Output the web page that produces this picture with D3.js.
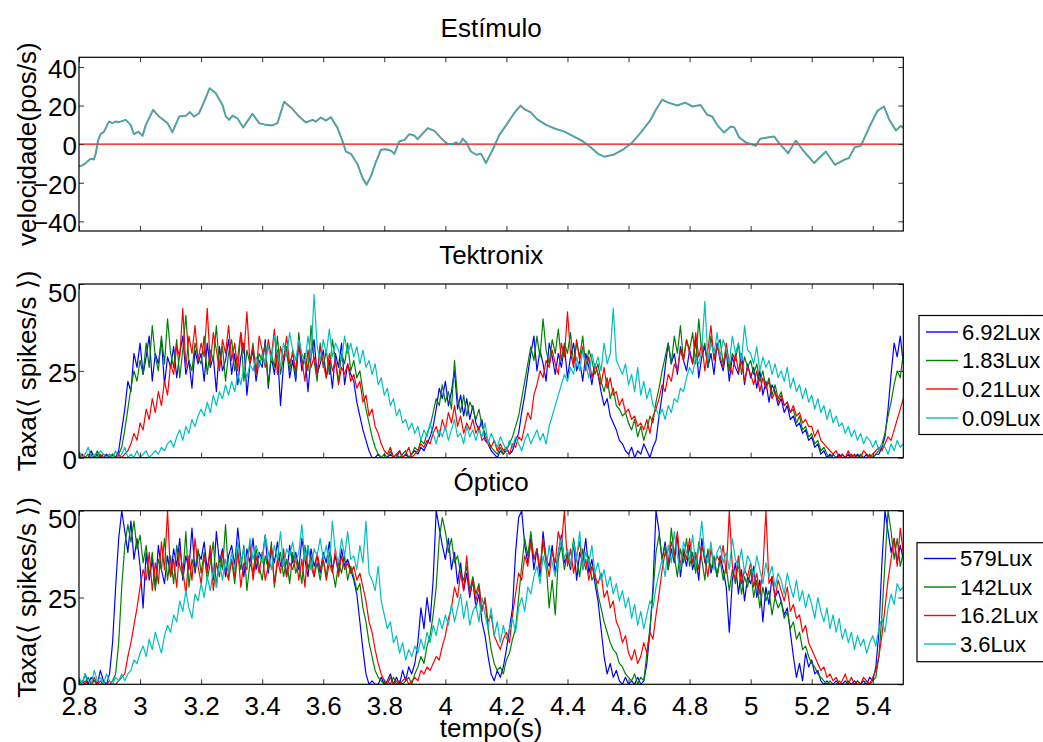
<!DOCTYPE html>
<html>
<head>
<meta charset="utf-8">
<script src="https://cdn.jsdelivr.net/npm/d3@7"></script>
<style>
  body { margin: 0; background: #fff; }
  svg text { font-family: "Liberation Sans", Arial, Helvetica, sans-serif; fill: #000; }
</style>
</head>
<body>
<svg id="chart" width="1043" height="742"></svg>
<script>
// ---------- data ----------
const timeDomain = [2.8, 5.5];
const xTicks = [2.8, 3, 3.2, 3.4, 3.6, 3.8, 4, 4.2, 4.4, 4.6, 4.8, 5, 5.2, 5.4];
const stimTicks = [-40, -20, 0, 20, 40];
const rateTicks = [0, 25, 50];

const panelTitles = ["Estímulo", "Tektronix", "Óptico"];
const stimLabel = "velocidade(pos/s)";
const rateLabel = "Taxa(⟨ spikes/s ⟩)";
const timeLabel = "tempo(s)";

// stimulus velocity, [time (s), velocity (pos/s)]
const stimulus = [
  [2.800,-11.5],[2.811,-11],[2.822,-9.8],[2.838,-7.6],[2.849,-8],[2.855,-4.7],[2.860,-0.3],[2.863,2.2],
  [2.871,5.2],[2.882,6.5],[2.898,11.7],[2.909,10.9],[2.920,11.7],[2.931,11.4],[2.953,12.6],[2.969,10],
  [2.980,5.2],[2.995,6.5],[3.008,4.3],[3.019,10],[3.043,17.8],[3.062,14.3],[3.090,10.9],[3.106,6.2],
  [3.128,14.3],[3.150,14.7],[3.163,16.6],[3.177,14.3],[3.193,16],[3.210,22],[3.228,29],[3.248,26.4],
  [3.270,20.3],[3.281,14.3],[3.292,12.6],[3.303,14.8],[3.319,13.4],[3.338,8.6],[3.368,15.7],[3.390,10.9],
  [3.412,10],[3.434,9.7],[3.450,10.9],[3.472,22],[3.499,18.3],[3.521,14.3],[3.543,11.2],[3.565,12.6],
  [3.576,11.7],[3.592,13.8],[3.609,12.2],[3.625,14],[3.647,8.3],[3.663,1.7],[3.674,-3.8],[3.691,-5],
  [3.713,-10.7],[3.729,-17.6],[3.742,-21],[3.756,-16.7],[3.773,-9],[3.789,-2.9],[3.805,-2.6],[3.822,-3.4],
  [3.833,-5],[3.849,1.4],[3.866,2.2],[3.882,5.2],[3.898,4.5],[3.909,2.6],[3.920,4.5],[3.942,8.3],
  [3.964,6.9],[3.986,3.1],[4.008,0],[4.024,0],[4.035,0.9],[4.046,-0.3],[4.057,2.8],[4.068,1],
  [4.084,-3.8],[4.101,-5.5],[4.117,-5],[4.133,-9.8],[4.155,-2.9],[4.177,4.8],[4.200,10],[4.225,16],
  [4.246,20],[4.260,18],[4.280,16.5],[4.300,13],[4.330,10],[4.360,8],[4.390,6.5],[4.420,4],
  [4.450,1.5],[4.475,-1.5],[4.500,-5],[4.520,-6.5],[4.550,-5.5],[4.580,-3],[4.610,0.5],[4.640,6],
  [4.670,12],[4.690,18],[4.710,23],[4.730,21.5],[4.760,20],[4.785,21.5],[4.810,19.5],[4.836,20.3],
  [4.858,15.2],[4.874,14.3],[4.890,10],[4.913,6],[4.935,9.1],[4.946,8.8],[4.962,3.6],[4.984,0.9],
  [5.006,-0.3],[5.017,-0.9],[5.031,2.8],[5.055,3.4],[5.077,4],[5.093,0.5],[5.123,-4.7],[5.148,1.9],
  [5.170,-2.9],[5.208,-9.8],[5.246,-3.8],[5.276,-10.7],[5.306,-8.1],[5.322,-7.2],[5.341,-1.6],[5.361,-0.9],
  [5.388,8.6],[5.415,17.2],[5.437,19.5],[5.454,12.6],[5.476,7.1],[5.492,9.5],[5.500,8.3]
];

// firing rates sampled every 10 ms from 2.80 s to 5.50 s (271 samples)
const rateStart = 2.8;
const rateStep = 0.01;

const tekBlue = [
  0,1,0,0,2,0,1,0,0,1, 0,1,0,2,8,14,22,19,30,26, 33,24,29,35,22,30,27,34,21,29,
  26,32,23,30,35,24,28,20,31,27, 30,22,33,26,29,19,32,25,28,34, 24,30,21,29,33,18,27,31,22,28,
  26,34,20,29,24,31,15,27,32,23, 28,22,33,25,30,19,29,34,24,27, 31,23,28,20,30,26,33,21,27,24,
  22,16,12,8,5,2,0,0,1,0, 0,0,1,0,0,2,0,1,0,1, 2,1,3,2,4,6,9,14,20,17,
  22,15,19,25,14,18,12,17,11,15, 10,8,11,5,4,2,1,0,2,1, 3,1,2,5,7,13,18,24,30,35,
  25,31,27,22,33,29,24,30,26,32, 23,29,33,25,28,22,30,26,21,27, 24,19,15,17,12,10,8,5,4,2,
  1,3,0,2,1,4,2,0,3,5, 12,18,26,33,27,30,24,32,28,25, 31,27,34,23,29,32,26,30,24,33,
  28,25,31,22,29,26,24,30,21,27, 23,26,20,25,18,22,16,21,19,15, 17,13,15,11,12,9,10,7,8,5,
  6,3,4,1,2,0,1,0,0,1, 0,0,1,0,0,1,0,0,1,0, 0,1,1,3,6,14,24,33,29,35,
  27
];
const tekGreen = [
  1,0,0,1,0,0,2,0,1,0, 0,1,0,1,3,8,14,20,25,22, 28,24,33,26,38,29,25,35,27,40,
  30,26,34,23,31,41,28,25,33,29, 27,35,24,31,28,38,26,32,22,30, 34,25,29,36,22,31,27,33,24,30,
  28,33,21,30,26,35,24,29,32,25, 31,23,36,27,30,25,38,28,22,33, 26,31,24,34,28,22,30,27,33,25,
  28,23,25,19,14,10,6,3,1,0, 1,0,2,0,1,0,1,2,0,1, 3,2,5,4,7,9,13,17,15,21,
  16,19,14,28,17,13,18,12,16,14, 11,14,9,7,5,3,2,1,3,1, 2,4,6,9,12,17,22,27,32,28,
  35,29,40,31,27,34,30,37,28,33, 30,36,27,33,29,35,26,31,28,24, 27,22,19,23,17,20,15,14,12,13,
  10,8,11,6,9,5,8,12,10,16, 20,25,29,33,27,35,30,38,28,34, 31,36,27,40,30,33,26,35,29,32,
  34,27,31,25,30,28,33,24,29,26, 28,24,27,22,25,20,23,18,21,17, 19,15,16,13,14,10,12,8,9,6,
  7,4,5,2,3,1,0,1,0,0, 1,0,0,1,0,0,1,0,0,1, 0,1,2,4,7,12,16,21,25,23,
  30
];
const tekRed = [
  0,1,0,0,1,0,0,1,0,0, 1,0,0,1,0,1,2,4,7,5, 10,8,14,11,17,13,19,15,22,18,
  27,24,32,29,43,26,35,30,38,28, 33,29,43,27,36,31,25,34,30,38, 28,33,25,36,30,42,27,32,24,35,
  31,26,34,29,37,24,32,28,35,27, 30,25,33,28,22,31,26,29,24,32, 27,23,30,25,28,21,26,24,27,22,
  24,20,22,16,18,12,14,9,7,4, 2,1,3,0,1,2,0,1,3,0, 1,2,4,3,5,4,7,9,6,11,
  8,13,10,15,9,12,7,10,8,11, 7,9,5,6,4,3,5,2,4,2, 3,1,4,3,6,5,9,13,11,18,
  21,25,23,28,26,31,27,24,33,29, 42,30,26,34,28,32,25,29,23,27, 24,21,26,20,23,18,19,15,17,13,
  14,11,12,9,10,8,11,7,12,14, 17,21,19,24,22,27,25,31,28,34, 30,27,36,29,33,25,31,38,28,32,
  29,26,33,27,24,30,25,28,22,26, 24,21,25,19,23,20,22,17,19,16, 18,15,16,13,15,12,13,10,11,9,
  9,6,8,5,4,3,2,1,2,0, 1,0,2,0,1,0,0,2,1,0, 1,2,3,2,4,6,5,8,11,14,
  17
];
const tekCyan = [
  2,0,1,3,0,1,0,2,1,0, 1,0,2,0,1,3,0,1,0,2, 0,1,2,0,1,2,1,3,2,4,
  5,3,6,8,5,9,7,11,9,12, 14,12,16,13,18,15,19,17,21,18, 22,19,24,21,26,23,27,25,29,26,
  30,27,32,28,35,30,26,33,29,36, 31,28,34,30,27,35,29,47,32,28, 34,30,37,29,33,31,28,35,30,33,
  29,32,27,31,26,28,24,27,21,23, 18,20,15,17,12,14,10,11,8,10, 7,9,5,8,6,10,7,4,8,6,
  9,5,8,11,6,7,4,9,6,8, 5,8,6,10,4,7,5,3,6,4, 2,5,3,6,4,2,5,7,4,6,
  8,5,7,4,9,12,15,18,21,24, 22,26,24,29,25,31,27,23,30,26, 29,25,33,27,30,43,28,26,24,27,
  21,24,19,26,18,22,17,20,15,14, 12,14,11,15,13,17,16,20,19,23, 26,24,29,27,31,45,28,33,30,36,
  29,34,31,27,35,30,33,28,38,31, 30,27,32,25,29,26,28,24,27,23, 25,22,26,20,23,19,21,17,20,16,
  18,14,17,13,15,11,14,10,12,9, 10,7,9,6,8,5,7,4,6,5, 3,5,2,4,3,1,4,2,5,3,
  4
];

const optBlue = [
  1,0,3,0,2,1,0,4,1,0, 3,12,28,42,50,44,38,47,36,42, 34,22,38,30,36,28,40,33,29,37,
  31,39,34,42,30,37,33,45,32,38, 36,41,33,38,30,44,35,39,31,37, 40,34,45,36,31,39,35,42,33,38,
  36,43,32,39,35,41,34,37,31,40, 35,38,33,42,36,31,39,34,37,32, 38,35,41,33,37,32,39,34,36,33,
  30,26,18,10,3,0,1,0,0,2, 0,1,3,0,2,0,4,1,5,3, 6,12,22,16,25,18,30,50,45,40,
  36,42,33,38,29,35,27,32,25,30, 22,26,18,14,8,3,1,4,2,5, 10,16,22,38,48,50,40,35,42,33,
  39,31,44,36,34,40,32,38,43,35, 37,33,41,30,38,35,42,32,36,29, 24,16,8,3,6,2,4,1,0,2,
  0,1,0,2,0,1,6,15,28,50, 44,36,41,33,39,35,43,31,38,34, 40,33,37,30,42,35,38,32,36,31,
  37,33,28,15,30,35,26,33,24,31, 29,34,25,30,18,28,23,31,25,27, 24,20,22,15,8,2,6,1,9,5,
  7,3,4,1,0,1,0,0,1,0, 0,1,0,0,1,0,0,1,0,2, 1,5,15,35,50,44,38,42,35,40,
  36
];
const optGreen = [
  0,1,0,2,0,1,0,0,1,0, 0,1,3,12,28,40,46,41,47,39, 43,35,40,31,38,27,36,33,42,30,
  37,29,40,34,31,44,28,36,33,39, 32,38,30,35,41,28,37,33,46,31, 36,29,38,33,40,27,35,32,39,34,
  30,37,33,41,28,35,38,31,36,29, 38,32,35,29,40,33,37,31,35,30, 36,31,38,33,28,35,32,37,30,34,
  31,27,29,22,18,12,8,4,2,1, 0,1,0,2,0,1,0,1,2,0, 3,5,8,6,11,14,20,28,42,48,
  44,38,42,35,37,32,30,34,27,31, 26,29,22,24,16,10,6,4,5,3, 7,9,13,16,25,34,42,37,44,36,
  39,33,41,35,22,30,20,36,40,33, 38,34,42,36,31,39,33,37,30,32, 26,22,18,15,12,10,9,6,5,3,
  2,1,3,0,2,1,9,16,26,38, 43,36,40,33,45,37,31,39,35,42, 34,38,32,41,36,30,39,33,37,31,
  36,30,34,27,33,29,35,26,31,28, 33,25,30,22,28,24,27,20,25,22, 24,19,21,16,18,13,15,10,11,8,
  6,5,3,2,1,0,1,0,0,1, 0,0,1,0,0,1,0,0,1,0, 1,2,8,20,35,50,44,36,42,34,
  38
];
const optRed = [
  0,0,1,0,0,2,0,1,0,0, 1,0,0,1,2,3,8,12,17,22, 28,33,30,38,27,35,29,41,33,50,
  31,36,28,39,33,26,37,30,42,34, 29,37,32,40,27,35,31,38,33,30, 36,31,39,28,35,33,41,30,37,32,
  38,30,34,40,29,36,32,39,31,35, 33,37,30,36,28,40,34,31,38,33, 36,30,35,32,39,31,37,33,35,32,
  34,30,32,28,24,18,15,10,6,3, 1,0,2,0,1,0,1,2,0,1, 2,1,4,3,5,4,6,8,7,11,
  14,19,22,28,25,32,27,37,26,30, 24,28,21,25,18,20,14,12,10,13, 15,12,20,26,32,30,37,34,41,36,
  39,33,42,36,31,38,35,44,40,50, 34,39,32,37,41,33,36,30,34,31, 29,32,25,27,22,24,18,16,12,14,
  9,7,10,6,8,12,9,15,13,20, 26,33,38,35,41,37,44,34,39,36, 42,35,38,33,40,36,31,39,34,37,
  35,40,32,50,34,30,37,29,33,31, 35,28,32,26,33,50,29,31,25,30, 27,24,28,21,23,19,20,15,17,12,
  10,8,6,4,5,2,3,1,2,0, 1,3,0,2,0,1,0,2,1,0, 2,4,8,14,22,30,36,42,34,45,
  38
];
const optCyan = [
  2,0,3,1,0,4,1,2,0,3, 1,0,2,1,3,1,3,4,7,6, 9,11,8,13,10,15,12,9,14,17,
  15,20,18,24,21,27,22,19,26,24, 29,25,31,27,33,28,35,30,36,32, 38,33,41,35,39,34,42,36,40,37,
  35,43,38,33,40,36,44,34,39,37, 41,35,38,46,36,40,33,39,37,42, 36,40,34,47,38,35,42,37,44,36,
  37,33,40,35,47,32,30,27,34,24, 20,16,18,12,14,9,12,7,10,8, 11,9,13,10,15,12,17,14,19,16,
  20,17,23,18,22,26,19,24,17,21, 23,18,25,20,16,22,14,18,12,17, 13,16,19,15,22,25,21,28,26,31,
  34,29,37,33,40,35,31,38,42,36, 39,34,41,36,44,33,38,35,40,32, 35,30,33,28,31,26,29,24,27,22,
  25,19,23,17,21,16,20,24,22,28, 32,36,31,40,35,44,37,33,41,38, 36,43,34,39,47,37,35,41,33,38,
  40,35,38,33,42,36,34,39,32,37, 35,31,37,33,29,35,31,34,28,32, 30,26,32,28,25,30,24,27,22,26,
  23,19,25,21,18,22,16,20,15,19, 13,16,12,15,10,14,11,13,9,12, 14,11,16,19,15,22,26,23,29,27,
  28
];

const tekSeries = [tekBlue, tekGreen, tekRed, tekCyan];
const optSeries = [optBlue, optGreen, optRed, optCyan];
const tekLegend = ["6.92Lux", "1.83Lux", "0.21Lux", "0.09Lux"];
const optLegend = ["579Lux", "142Lux", "16.2Lux", "3.6Lux"];
const seriesColors = ["#0000ff", "#008000", "#ff0000", "#00bfbf"];

// ---------- layout ----------
const svg = d3.select("#chart");
const plotLeft = 79, plotRight = 903.3, centerX = (plotLeft + plotRight) / 2;
const panels = [
  { top: 57.3, bottom: 231.0 },
  { top: 284.0, bottom: 457.7 },
  { top: 510.7, bottom: 684.3 }
];
const fontSize = 26;

const x = d3.scaleLinear().domain(timeDomain).range([plotLeft, plotRight]);
const yStim = d3.scaleLinear().domain([-45, 45]).range([panels[0].bottom, panels[0].top]);
const yTek = d3.scaleLinear().domain([0, 50]).range([panels[1].bottom, panels[1].top]);
const yOpt = d3.scaleLinear().domain([0, 50]).range([panels[2].bottom, panels[2].top]);

const rateTime = d3.range(tekBlue.length).map(i => rateStart + i * rateStep);
const minus = d => (d < 0 ? "\u2212" + Math.abs(d) : String(d));

function styleText(sel, size) {
  sel.selectAll("text")
    .attr("font-size", size)
    .attr("font-family", "'Liberation Sans', Arial, Helvetica, sans-serif")
    .attr("fill", "#000");
}

function addClip(id, p) {
  svg.append("defs").append("clipPath").attr("id", id)
    .append("rect")
    .attr("x", plotLeft).attr("y", p.top)
    .attr("width", plotRight - plotLeft).attr("height", p.bottom - p.top);
}

function drawFrame(p, y, yTicks, withXLabels) {
  const g = svg.append("g");
  const tick = 5;
  const strip = s => s.select(".domain").remove();

  // inward ticks on all four sides
  g.append("g").attr("transform", `translate(0,${p.bottom})`)
    .call(d3.axisTop(x).tickValues(xTicks).tickSize(tick).tickFormat("")).call(strip);
  g.append("g").attr("transform", `translate(0,${p.top})`)
    .call(d3.axisBottom(x).tickValues(xTicks).tickSize(tick).tickFormat("")).call(strip);
  g.append("g").attr("transform", `translate(${plotLeft},0)`)
    .call(d3.axisRight(y).tickValues(yTicks).tickSize(tick).tickFormat("")).call(strip);
  g.append("g").attr("transform", `translate(${plotRight},0)`)
    .call(d3.axisLeft(y).tickValues(yTicks).tickSize(tick).tickFormat("")).call(strip);
  g.selectAll(".tick line").attr("stroke", "#333").attr("stroke-width", 1);

  // y tick labels
  const yl = g.append("g").attr("transform", `translate(${plotLeft},0)`)
    .call(d3.axisLeft(y).tickValues(yTicks).tickSize(0).tickPadding(2).tickFormat(minus))
    .call(strip);
  styleText(yl, fontSize);
  const yMax = y.domain()[1];
  yl.selectAll("text").attr("dy", d => (d === yMax ? "0.66em" : "0.4em"));

  if (withXLabels) {
    const xl = g.append("g").attr("transform", `translate(0,${p.bottom})`)
      .call(d3.axisBottom(x).tickValues(xTicks).tickSize(0).tickPadding(12).tickFormat(d => String(d)))
      .call(strip);
    styleText(xl, fontSize);
  }

  g.append("rect")
    .attr("x", plotLeft).attr("y", p.top)
    .attr("width", plotRight - plotLeft).attr("height", p.bottom - p.top)
    .attr("fill", "none").attr("stroke", "#000").attr("stroke-width", 1.2);
}

function drawTitle(text, baseline) {
  svg.append("text").attr("x", centerX).attr("y", baseline)
    .attr("text-anchor", "middle").attr("font-size", fontSize).text(text);
}

function drawYLabel(text, p) {
  svg.append("text")
    .attr("transform", `translate(36,${(p.top + p.bottom) / 2}) rotate(-90)`)
    .attr("text-anchor", "middle").attr("font-size", fontSize).text(text);
}

function drawRates(series, y, clipId) {
  const line = d3.line().x((d, i) => x(rateTime[i])).y(d => y(d));
  const g = svg.append("g").attr("clip-path", `url(#${clipId})`);
  series.forEach((s, k) => {
    g.append("path").datum(s)
      .attr("d", line)
      .attr("fill", "none")
      .attr("stroke", seriesColors[k])
      .attr("stroke-width", 1.2)
      .attr("stroke-linejoin", "round");
  });
}

function drawLegend(labels, box, rows) {
  const g = svg.append("g");
  g.append("rect").attr("x", box.x).attr("y", box.y)
    .attr("width", box.w).attr("height", box.h)
    .attr("fill", "#fff").attr("stroke", "#000").attr("stroke-width", 1.2);
  labels.forEach((lab, i) => {
    g.append("line").attr("x1", box.x + 7).attr("x2", box.x + 39)
      .attr("y1", rows[i]).attr("y2", rows[i])
      .attr("stroke", seriesColors[i]).attr("stroke-width", 1.4);
    g.append("text").attr("x", box.x + 43).attr("y", rows[i])
      .attr("dy", "0.36em").attr("font-size", 22).text(lab);
  });
}

// ---------- stimulus panel ----------
addClip("clip-stim", panels[0]);
const stimLine = d3.line().x(d => x(d[0])).y(d => yStim(d[1]));
const gs = svg.append("g").attr("clip-path", "url(#clip-stim)");
gs.append("line")
  .attr("x1", plotLeft).attr("x2", plotRight)
  .attr("y1", yStim(0)).attr("y2", yStim(0))
  .attr("stroke", "#ff0000").attr("stroke-width", 1.2);
gs.append("path").datum(stimulus).attr("d", stimLine)
  .attr("fill", "none").attr("stroke", "#3f6262").attr("stroke-width", 2)
  .attr("stroke-linejoin", "round").attr("opacity", 0.7);
gs.append("path").datum(stimulus).attr("d", stimLine)
  .attr("fill", "none").attr("stroke", "#22baba").attr("stroke-width", 0.9)
  .attr("stroke-linejoin", "round");
drawFrame(panels[0], yStim, stimTicks, false);
drawTitle(panelTitles[0], 37);
drawYLabel(stimLabel, panels[0]);

// ---------- Tektronix panel ----------
addClip("clip-tek", panels[1]);
drawRates(tekSeries, yTek, "clip-tek");
drawFrame(panels[1], yTek, rateTicks, false);
drawTitle(panelTitles[1], 264);
drawYLabel(rateLabel, panels[1]);
drawLegend(tekLegend, { x: 919, y: 315.5, w: 140, h: 119 }, [332, 360.5, 389, 418]);

// ---------- optical panel ----------
addClip("clip-opt", panels[2]);
drawRates(optSeries, yOpt, "clip-opt");
drawFrame(panels[2], yOpt, rateTicks, true);
drawTitle(panelTitles[2], 491);
drawYLabel(rateLabel, panels[2]);
drawLegend(optLegend, { x: 917, y: 542.7, w: 140, h: 119 }, [558.5, 587, 615.5, 644]);

svg.append("text").attr("x", centerX).attr("y", 737)
  .attr("text-anchor", "middle").attr("font-size", fontSize).text(timeLabel);
</script>
</body>
</html>
